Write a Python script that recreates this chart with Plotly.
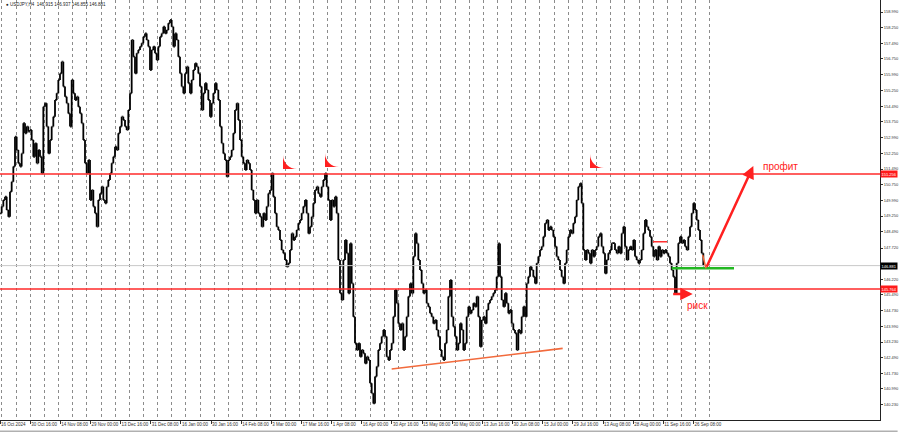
import plotly.graph_objects as go

# ---- data (USDJPY, H4) ----
CLOSES = [
    149.38, 149.70, 150.01, 150.17, 149.54, 149.22, 150.41, 150.89, 151.61, 153.04,
    152.40, 151.77, 151.61, 152.24, 153.68, 153.20, 153.52, 153.28, 153.36, 152.88,
    152.08, 152.72, 151.77, 152.40, 152.08, 151.29, 154.47, 154.63, 153.52, 152.24,
    152.88, 153.52, 153.99, 154.79, 155.11, 155.75, 156.06, 156.62, 155.43, 154.95,
    154.63, 154.15, 153.52, 155.75, 155.11, 154.79, 154.95, 154.47, 154.15, 153.68,
    152.88, 151.77, 151.29, 151.92, 150.01, 150.49, 149.70, 149.38, 148.74, 150.01,
    150.33, 150.65, 150.01, 149.86, 150.65, 150.97, 151.29, 151.77, 152.08, 152.56,
    152.40, 153.20, 153.52, 153.99, 153.83, 153.52, 153.36, 154.31, 155.11, 157.66,
    156.86, 156.06, 157.02, 157.18, 157.34, 157.50, 157.81, 157.97, 157.66, 157.34,
    156.22, 157.18, 157.34, 157.02, 156.70, 157.34, 157.81, 157.97, 158.29, 157.97,
    158.13, 158.45, 158.61, 158.29, 157.34, 157.97, 157.66, 156.86, 156.06, 155.43,
    155.11, 156.06, 156.38, 155.59, 155.11, 155.75, 156.22, 156.54, 156.38, 156.06,
    155.43, 154.31, 155.11, 155.59, 155.27, 154.79, 153.99, 154.63, 155.11, 155.59,
    155.27, 154.79, 153.52, 152.72, 152.24, 151.92, 151.13, 151.92, 152.08, 152.40,
    153.20, 154.31, 154.63, 153.83, 152.88, 152.08, 151.77, 151.45, 151.92, 151.77,
    151.45, 150.49, 150.01, 149.38, 150.01, 149.38, 149.22, 148.74, 149.38, 149.06,
    149.70, 150.33, 150.49, 151.29, 150.17, 149.38, 148.74, 148.58, 148.10, 147.63,
    147.47, 147.15, 146.83, 146.99, 147.63, 148.42, 148.10, 148.26, 148.58, 148.90,
    149.06, 149.38, 149.70, 150.01, 149.38, 148.42, 148.74, 149.22, 149.86, 150.49,
    150.65, 150.33, 150.17, 150.65, 150.97, 151.29, 150.65, 150.01, 149.06, 150.01,
    149.70, 150.17, 149.38, 147.15, 145.56, 145.24, 147.15, 148.10, 147.47, 145.56,
    147.94, 146.03, 144.44, 143.17, 142.85, 143.17, 142.53, 142.85, 142.69, 142.21,
    142.53, 142.37, 141.26, 140.78, 140.30, 141.58, 142.06, 142.85, 143.17, 143.49,
    143.81, 143.49, 142.53, 142.37, 142.85, 143.17, 144.44, 145.72, 145.08, 144.12,
    143.81, 144.12, 142.85, 143.49, 144.44, 145.40, 146.03, 145.56, 147.31, 148.42,
    147.94, 147.15, 146.67, 146.03, 145.56, 145.72, 145.08, 144.92, 144.60, 144.44,
    144.12, 144.28, 143.81, 143.49, 142.85, 142.53, 142.37, 143.17, 143.81, 145.40,
    146.19, 144.44, 143.97, 143.49, 142.85, 143.17, 144.12, 143.81, 142.85, 143.17,
    144.44, 144.92, 144.60, 144.76, 145.08, 144.92, 145.40, 144.44, 143.01, 144.28,
    144.44, 144.12, 144.76, 145.08, 145.24, 145.40, 145.56, 145.72, 146.35, 147.94,
    146.35, 145.24, 144.92, 145.56, 145.08, 144.60, 144.76, 144.12, 143.81, 143.65,
    142.85, 143.81, 143.65, 144.44, 144.92, 144.44, 146.03, 146.35, 146.83, 146.67,
    146.35, 146.03, 146.99, 147.31, 147.63, 147.79, 148.26, 148.90, 149.06, 148.58,
    148.74, 148.58, 148.26, 147.79, 147.31, 147.15, 146.67, 146.35, 146.03, 146.99,
    147.63, 148.26, 148.58, 148.42, 148.90, 149.22, 150.01, 150.65, 150.81, 149.86,
    147.63, 147.15, 147.63, 147.47, 146.99, 147.63, 147.31, 147.63, 147.79, 148.26,
    148.42, 147.79, 147.47, 146.51, 147.15, 147.47, 147.63, 147.95, 147.95, 147.63,
    147.47, 147.79, 147.47, 148.42, 148.74, 147.79, 147.15, 147.63, 147.79, 147.63,
    148.10, 147.31, 147.15, 146.99, 147.15, 147.63, 148.42, 149.06, 148.74, 148.58,
    148.26, 147.79, 147.31, 147.63, 147.15, 147.79, 147.31, 147.63, 147.47, 147.63,
    147.47, 147.31, 146.99, 146.67, 146.35, 145.56, 146.99, 147.95, 148.26, 147.95,
    148.10, 147.79, 147.63, 148.26, 148.74, 149.38, 149.86, 149.54, 149.06, 148.58,
    148.10, 147.47, 146.88,
]

TIME_LABELS = [
    "16 Oct 2024", "30 Oct 16:00", "14 Nov 08:00", "29 Nov 00:00", "13 Dec 16:00",
    "31 Dec 08:00", "16 Jan 00:00", "30 Jan 16:00", "14 Feb 08:00", "3 Mar 00:00",
    "17 Mar 16:00", "1 Apr 08:00", "16 Apr 00:00", "30 Apr 16:00", "15 May 08:00",
    "30 May 00:00", "13 Jun 16:00", "30 Jun 08:00", "15 Jul 00:00", "29 Jul 16:00",
    "13 Aug 08:00", "28 Aug 00:00", "11 Sep 16:00", "26 Sep 08:00",
]

PRICE_TICKS = [
    158.990, 158.250, 157.490, 156.750, 155.990, 155.250, 154.490, 153.750, 152.990,
    152.250, 151.490, 150.750, 149.990, 149.250, 148.490, 147.720, 146.220, 145.490,
    144.730, 143.990, 143.230, 142.490, 141.730, 140.990, 140.230, 139.490,
]

RESISTANCE = 151.256
SUPPORT = 145.764
LAST_PRICE = 146.881
ENTRY = 146.75

TITLE = "\u25cf USDJPY,H4  146.915 146.937 146.855 146.881"

# drawn objects (bar index, price)
PEAK_MARKS_X = [169.8, 195.0, 354.0]
PEAK_MARKS_Y = [151.49, 151.59, 151.54]
TREND_LINE = [(235.0, 141.94), (337.6, 142.93)]
ENTRY_LINE = [(403.0, ENTRY), (440.4, ENTRY)]
PROFIT_ARROW = [(423.6, ENTRY), (452.0, 151.64)]
RISK_ARROW = [(403.0, 145.53), (415.6, 145.53)]
SMALL_ORANGE = [(421.6, 147.39), (423.6, ENTRY)]
SMALL_RED = [(391.8, 148.02), (400.2, 148.02)]

BARS_PER_LABEL = 18.09
GRID_START, GRID_STEP, GRID_END = 1.14, 8.496, 430

# ---- build ----
n = len(CLOSES)
xs = list(range(n))
opens = [CLOSES[0]] + CLOSES[:-1]
highs = [max(o, c) for o, c in zip(opens, CLOSES)]
lows = [min(o, c) for o, c in zip(opens, CLOSES)]

fig = go.Figure()
fig.add_trace(go.Ohlc(
    x=xs, open=opens, high=highs, low=lows, close=CLOSES,
    increasing=dict(line=dict(color="black", width=1.8)),
    decreasing=dict(line=dict(color="black", width=1.8)),
    tickwidth=0.5, showlegend=False, hoverinfo="skip",
))
# invisible trace to carry the label axis
fig.add_trace(go.Scatter(x=[0, n], y=[LAST_PRICE, LAST_PRICE], xaxis="x2",
                         mode="lines", line=dict(width=0), showlegend=False,
                         hoverinfo="skip"))
# peak arrow marks
fig.add_trace(go.Scatter(x=PEAK_MARKS_X, y=PEAK_MARKS_Y, mode="markers",
                         marker=dict(symbol="arrow-wide", size=14, angle=225,
                                     color="#ff2020", line=dict(width=0)),
                         showlegend=False, hoverinfo="skip"))

XR = [0, 528]
YR = [139.508, 159.565]

grid_vals = []
g = GRID_START
while g <= GRID_END:
    grid_vals.append(g)
    g += GRID_STEP

label_vals = [BARS_PER_LABEL * i for i in range(len(TIME_LABELS))]

xfont = dict(family="Liberation Sans, Arial, sans-serif", size=4.5, color="#333")
yfont = dict(family="Liberation Sans, Arial, sans-serif", size=4, color="#333")

fig.update_layout(
    width=900, height=432,
    margin=dict(l=0, r=20, t=0, b=12, autoexpand=False),
    paper_bgcolor="white", plot_bgcolor="white",
    xaxis=dict(range=XR, tickvals=grid_vals, showticklabels=False, ticks="",
               showgrid=True, gridcolor="#8c8c8c", griddash="dot", gridwidth=1,
               zeroline=False, showline=False, rangeslider=dict(visible=False),
               fixedrange=True, automargin=False),
    xaxis2=dict(range=XR, overlaying="x", anchor="y", side="bottom",
                matches="x", tickvals=label_vals, ticktext=TIME_LABELS,
                tickangle=0, ticklabelposition="outside right", ticks="outside",
                ticklen=3, tickcolor="#333", showgrid=False, zeroline=False,
                showline=True, linecolor="#222", linewidth=1, tickfont=xfont,
                automargin=False),
    yaxis=dict(range=YR, side="right", tickvals=PRICE_TICKS,
               ticktext=[f"{v:.3f}" for v in PRICE_TICKS], ticks="outside",
               ticklen=2, tickcolor="#333", showgrid=False, zeroline=False,
               showline=True, linecolor="#222", linewidth=1, tickfont=yfont,
               automargin=False),
)

# horizontal levels
for price, color, w in [(LAST_PRICE, "#c8c8c8", 1), (RESISTANCE, "#ff2a2a", 1.5),
                        (SUPPORT, "#ff2a2a", 1.5)]:
    fig.add_shape(type="line", xref="x domain", x0=0, x1=1, yref="y",
                  y0=price, y1=price, line=dict(color=color, width=w))

# price boxes on the axis
for price, bg in [(RESISTANCE, "#ff1a1a"), (SUPPORT, "#ff1a1a"), (LAST_PRICE, "#000000")]:
    fig.add_annotation(xref="paper", x=1.0, xanchor="left", yref="y", y=price,
                       text=f"{price:.3f}", showarrow=False, bgcolor=bg,
                       font=dict(family="Liberation Sans, Arial", size=4, color="white"),
                       borderpad=0.5)

# trend & small lines
for pts, color, w in [(TREND_LINE, "#f26a3c", 1.6), (ENTRY_LINE, "#22b822", 2.5),
                      (SMALL_ORANGE, "#f26a3c", 1.5), (SMALL_RED, "#ff3030", 1.5)]:
    fig.add_shape(type="line", xref="x", yref="y", x0=pts[0][0], y0=pts[0][1],
                  x1=pts[1][0], y1=pts[1][1], line=dict(color=color, width=w))

# arrows
for (x1, y1), (x0, y0) in [(PROFIT_ARROW[1], PROFIT_ARROW[0]),
                           (RISK_ARROW[1], RISK_ARROW[0])]:
    fig.add_annotation(x=x1, y=y1, ax=x0, ay=y0, xref="x", yref="y",
                       axref="x", ayref="y", showarrow=True, arrowhead=2,
                       arrowsize=1.0, arrowwidth=2.5, arrowcolor="#ff2020", text="")

fig.add_annotation(x=456.4, y=151.61, xref="x", yref="y", xanchor="left",
                   text="профит", showarrow=False,
                   font=dict(family="Liberation Sans, Arial", size=10, color="#ff2020"))
fig.add_annotation(x=411.0, y=145.0, xref="x", yref="y", xanchor="left",
                   text="риск", showarrow=False,
                   font=dict(family="Liberation Sans, Arial", size=10, color="#ff2020"))

fig.add_annotation(xref="paper", yref="paper", x=0.005, y=1.0, xanchor="left",
                   yanchor="top", text=TITLE, showarrow=False,
                   font=dict(family="Liberation Sans, Arial", size=4.5, color="#222"))

# bottom scrollbar strip
fig.add_shape(type="line", xref="paper", yref="paper", x0=0, x1=1.02,
              y0=-0.027, y1=-0.027, line=dict(color="#b0b0b0", width=1.5))

fig.write_html("out.html", config={"displayModeBar": False},
               post_script="document.body.style.margin='0px';"
                           "document.body.style.overflow='hidden';")
